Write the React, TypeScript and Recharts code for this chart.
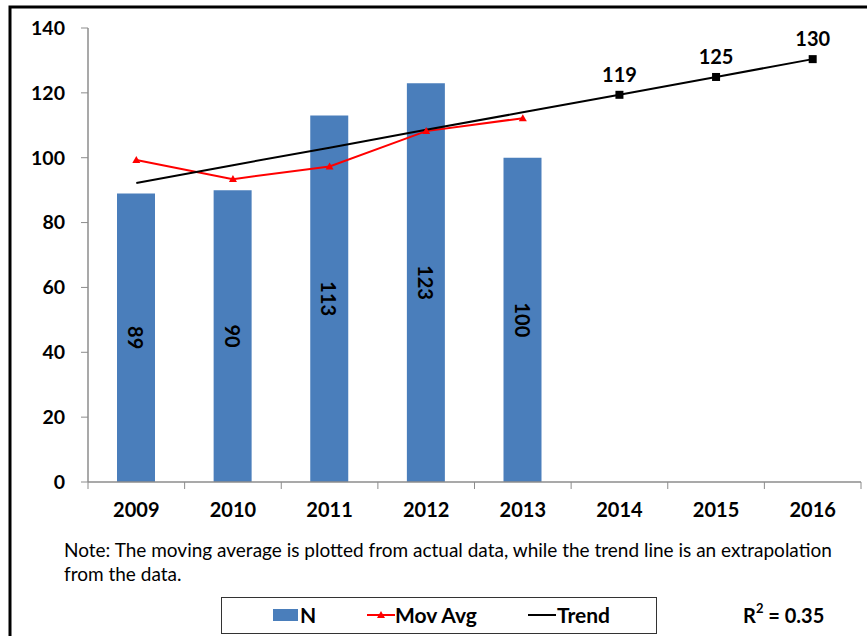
import React from 'react';
import { ComposedChart, Bar, Line, XAxis, YAxis, LabelList, Legend } from 'recharts';

const years = ['2009', '2010', '2011', '2012', '2013', '2014', '2015', '2016'];
const nValues = [89, 90, 113, 123, 100, null, null, null];
const movAvgValues = [99.3, 93.4, 97.3, 108.2, 112.2, null, null, null];
const trendValues = [92.2, 97.7, 103.1, 108.6, 114.0, 119.4, 124.9, 130.4];
const forecastYears = ['2014', '2015', '2016'];
const yTicks = [0, 20, 40, 60, 80, 100, 120, 140];
const noteLines = [
  'Note: The moving average is plotted from actual data, while the trend line is an extrapolation',
  'from the data.',
];
const rSquaredText = '0.35';

const data = years.map((year, i) => ({
  year,
  n: nValues[i],
  movAvg: movAvgValues[i],
  trend: trendValues[i],
}));

const FONT = 'Lato, "Open Sans", sans-serif';
const BAR_COLOR = '#4A7EBB';
const AXIS_COLOR = '#8C8C8C';

const XTick = (props: any) => {
  const { x, y, payload, index } = props;
  const off = payload.offset || 0;
  const last = index === years.length - 1;
  return (
    <g>
      <line x1={x - off} x2={x - off} y1={y} y2={y + 7} stroke={AXIS_COLOR} strokeWidth={1} />
      {last && <line x1={x + off} x2={x + off} y1={y} y2={y + 7} stroke={AXIS_COLOR} strokeWidth={1} />}
      <text x={x} y={y + 27} textAnchor="middle" dominantBaseline="central" fontFamily={FONT} fontWeight={700} fontSize={20} fill="#000">
        {payload.value}
      </text>
    </g>
  );
};

const BarValueLabel = (props: any) => {
  const { x, y, width, height, value } = props;
  if (value == null) return null;
  const cx = x + width / 2;
  const cy = y + height / 2;
  return (
    <text x={cx} y={cy} transform={`rotate(90, ${cx}, ${cy})`} textAnchor="middle" dominantBaseline="central" fontFamily={FONT} fontWeight={700} fontSize={20} fill="#000">
      {value}
    </text>
  );
};

const TrendLabel = (props: any) => {
  const { x, y, value, index } = props;
  if (!forecastYears.includes(years[index])) return null;
  return (
    <text x={x} y={y - 21} textAnchor="middle" dominantBaseline="central" fontFamily={FONT} fontWeight={700} fontSize={20} fill="#000">
      {Math.round(value)}
    </text>
  );
};

const TrendDot = (props: any) => {
  const { cx, cy, payload } = props;
  if (!payload || !forecastYears.includes(payload.year)) return <g />;
  return <rect x={cx - 4} y={cy - 4} width={8} height={8} fill="#000" />;
};

const TriDot = (props: any) => {
  const { cx, cy, value } = props;
  if (value == null || cx == null) return <g />;
  return <path d={`M ${cx} ${cy - 4} L ${cx + 4} ${cy + 3} L ${cx - 4} ${cy + 3} Z`} fill="#FF0000" />;
};

const LegendContent = () => (
  <div style={{ position: 'relative', width: 436, height: 37, border: '1.5px solid #333', boxSizing: 'border-box', background: '#fff', fontFamily: FONT, fontWeight: 700, fontSize: 21, color: '#000' }}>
    <div style={{ position: 'absolute', left: 51, top: 11, width: 25, height: 12, background: BAR_COLOR }} />
    <div style={{ position: 'absolute', left: 78, top: 3, lineHeight: '28px' }}>N</div>
    <svg style={{ position: 'absolute', left: 145, top: 10 }} width={28} height={14}>
      <line x1={0} x2={28} y1={7} y2={7} stroke="#FF0000" strokeWidth={2} />
      <path d="M 14 3 L 18 10 L 10 10 Z" fill="#FF0000" />
    </svg>
    <div style={{ position: 'absolute', left: 173, top: 3, lineHeight: '28px' }}>Mov Avg</div>
    <svg style={{ position: 'absolute', left: 306, top: 10 }} width={28} height={14}>
      <line x1={0} x2={28} y1={7} y2={7} stroke="#000" strokeWidth={2} />
    </svg>
    <div style={{ position: 'absolute', left: 335, top: 3, lineHeight: '28px' }}>Trend</div>
  </div>
);

export default function App() {
  return (
    <div style={{ position: 'absolute', left: 0, top: 0, width: 867, height: 636, background: '#fff', overflow: 'hidden' }}>
      <ComposedChart width={867} height={636} data={data} margin={{ top: 28, right: 6, bottom: 124, left: 28 }}>
        <XAxis
          dataKey="year"
          height={30}
          axisLine={{ stroke: AXIS_COLOR, strokeWidth: 1.5 }}
          tickLine={false}
          tickSize={0}
          tickMargin={0}
          tick={<XTick />}
          interval={0}
        />
        <YAxis
          width={60}
          domain={[0, 140]}
          ticks={yTicks}
          interval={0}
          axisLine={{ stroke: AXIS_COLOR, strokeWidth: 1.5 }}
          tickLine={{ stroke: AXIS_COLOR }}
          tickSize={7}
          tickMargin={16}
          tick={{ fontFamily: FONT, fontWeight: 700, fontSize: 19.5, fill: '#000' }}
        />
        <Legend layout="vertical" align="center" verticalAlign="middle" wrapperStyle={{ left: 221, top: 597, width: 436, height: 37 }} content={<LegendContent />} />
        <Bar dataKey="n" name="N" fill={BAR_COLOR} barSize={38} isAnimationActive={false}>
          <LabelList dataKey="n" content={<BarValueLabel />} />
        </Bar>
        <Line dataKey="movAvg" name="Mov Avg" stroke="#FF0000" strokeWidth={2} dot={<TriDot />} activeDot={false} connectNulls={false} isAnimationActive={false} />
        <Line dataKey="trend" name="Trend" stroke="#000" strokeWidth={2} dot={<TrendDot />} activeDot={false} isAnimationActive={false}>
          <LabelList dataKey="trend" content={<TrendLabel />} />
        </Line>
      </ComposedChart>
      <svg width={867} height={636} style={{ position: 'absolute', left: 0, top: 0, pointerEvents: 'none' }}>
        <rect x={10} y={7} width={880} height={660} fill="none" stroke="#000" strokeWidth={3} />
        {noteLines.map((line, i) => (
          <text key={i} x={64} y={549 + i * 24} dominantBaseline="central" fontFamily={FONT} fontSize={19} fill="#000">
            {line}
          </text>
        ))}
        <text x={743} y={615} dominantBaseline="central" fontFamily={FONT} fontWeight={700} fontSize={20} fill="#000">
          R<tspan dy={-7} fontSize={13}>2</tspan><tspan dy={7}>{` = ${rSquaredText}`}</tspan>
        </text>
      </svg>
    </div>
  );
}
